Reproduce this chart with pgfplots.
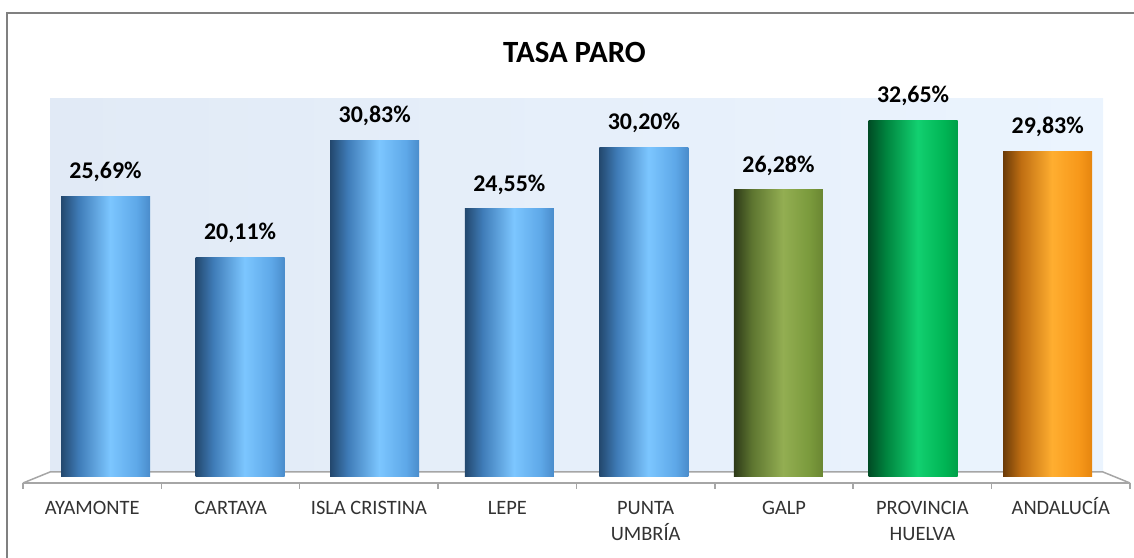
\documentclass[border=0pt]{standalone}
\usepackage{pgfplots}
\pgfplotsset{compat=1.18}
\usepackage{fontspec}
\setmainfont{Carlito}

\definecolor{framegray}{HTML}{808080}
\definecolor{floorgray}{HTML}{A6A6A6}
\definecolor{wallL}{HTML}{E1EAF6}
\definecolor{wallR}{HTML}{EBF4FE}

\definecolor{bl0}{HTML}{23486E}
\definecolor{bl1}{HTML}{3F7CB8}
\definecolor{bl2}{HTML}{7CC6FF}
\definecolor{bl3}{HTML}{5EA8E8}
\definecolor{bl4}{HTML}{4A8CCB}

\definecolor{ol0}{HTML}{2E3A18}
\definecolor{ol1}{HTML}{5D7530}
\definecolor{ol2}{HTML}{93AE52}
\definecolor{ol3}{HTML}{7A9A3C}
\definecolor{ol4}{HTML}{6A8632}

\definecolor{gr0}{HTML}{004D25}
\definecolor{gr1}{HTML}{00853F}
\definecolor{gr2}{HTML}{12D070}
\definecolor{gr3}{HTML}{00B555}
\definecolor{gr4}{HTML}{009F48}

\definecolor{or0}{HTML}{6B3B08}
\definecolor{or1}{HTML}{BF6E12}
\definecolor{or2}{HTML}{FFAE30}
\definecolor{or3}{HTML}{F7981A}
\definecolor{or4}{HTML}{E5850F}

\pgfdeclarehorizontalshading{cylblue}{100bp}{color(0bp)=(bl0); color(25bp)=(bl0); color(35bp)=(bl1); color(52.5bp)=(bl2); color(67.5bp)=(bl3); color(75bp)=(bl4); color(100bp)=(bl4)}
\pgfdeclarehorizontalshading{cylolive}{100bp}{color(0bp)=(ol0); color(25bp)=(ol0); color(35bp)=(ol1); color(52.5bp)=(ol2); color(67.5bp)=(ol3); color(75bp)=(ol4); color(100bp)=(ol4)}
\pgfdeclarehorizontalshading{cylgreen}{100bp}{color(0bp)=(gr0); color(25bp)=(gr0); color(35bp)=(gr1); color(52.5bp)=(gr2); color(67.5bp)=(gr3); color(75bp)=(gr4); color(100bp)=(gr4)}
\pgfdeclarehorizontalshading{cylorange}{100bp}{color(0bp)=(or0); color(25bp)=(or0); color(35bp)=(or1); color(52.5bp)=(or2); color(67.5bp)=(or3); color(75bp)=(or4); color(100bp)=(or4)}

\begin{document}
\begin{tikzpicture}[x=1bp,y=1bp]
\path[use as bounding box] (0,0) rectangle (1134,558);
\draw[framegray, line width=2.5bp] (7,-20) rectangle (1160,545);
\node[font=\bfseries\fontsize{31}{36}\selectfont, text=black] at (574.5,506) {TASA PARO};
\fill[left color=wallL, right color=wallR] (50,86) rectangle (1103,459);
\fill[white] (23,75) -- (50,86) -- (1103,86) -- (1130,75) -- cycle;
\draw[floorgray, line width=1.5bp] (23,75) -- (50,86) -- (1103,86) -- (1130,75);

\begin{axis}[
  at={(23bp,75bp)}, anchor=south west, scale only axis,
  width=1107bp, height=20bp,
  xmin=-0.5, xmax=7.5, ymin=0, ymax=1,
  axis y line=none, axis x line*=bottom,
  x axis line style={floorgray, line width=2bp},
  xtick={0,...,7},
  xticklabels={AYAMONTE, CARTAYA, ISLA CRISTINA, LEPE, PUNTA\\UMBRÍA, GALP, PROVINCIA\\HUELVA, ANDALUCÍA},
  major tick length=0pt,
  minor xtick={-0.5,0.5,...,7.5},
  minor tick length=6bp,
  tick align=outside,
  minor tick style={floorgray, line width=1.5bp},
  typeset ticklabels with strut,
  xticklabel style={font=\fontsize{20.5}{26}\selectfont, align=center, text=black!80, anchor=north, yshift=-10bp},
]
\end{axis}

\begin{axis}[
  at={(38.2bp,81bp)}, anchor=south west, scale only axis,
  width=1076.8bp, height=378bp,
  xmin=-0.5, xmax=7.5, ymin=0, ymax=34.6,
  hide axis, clip=false,
  ybar, bar width=89bp, bar shift=0pt,
  /pgf/number format/assume math mode=true,
  nodes near coords={\pgfmathprintnumber[fixed,fixed zerofill,precision=2,use comma]{\pgfplotspointmeta}\%},
  every node near coord/.append style={font=\bfseries\fontsize{24}{28}\selectfont, text=black, yshift=11bp},
]
\addplot[draw=none, shade, shading=cylblue] coordinates {(0,25.69)};
\addplot[draw=none, shade, shading=cylblue] coordinates {(1,20.11)};
\addplot[draw=none, shade, shading=cylblue] coordinates {(2,30.83)};
\addplot[draw=none, shade, shading=cylblue] coordinates {(3,24.55)};
\addplot[draw=none, shade, shading=cylblue] coordinates {(4,30.20)};
\addplot[draw=none, shade, shading=cylolive] coordinates {(5,26.28)};
\addplot[draw=none, shade, shading=cylgreen] coordinates {(6,32.65)};
\addplot[draw=none, shade, shading=cylorange] coordinates {(7,29.83)};
\end{axis}
\end{tikzpicture}
\end{document}
